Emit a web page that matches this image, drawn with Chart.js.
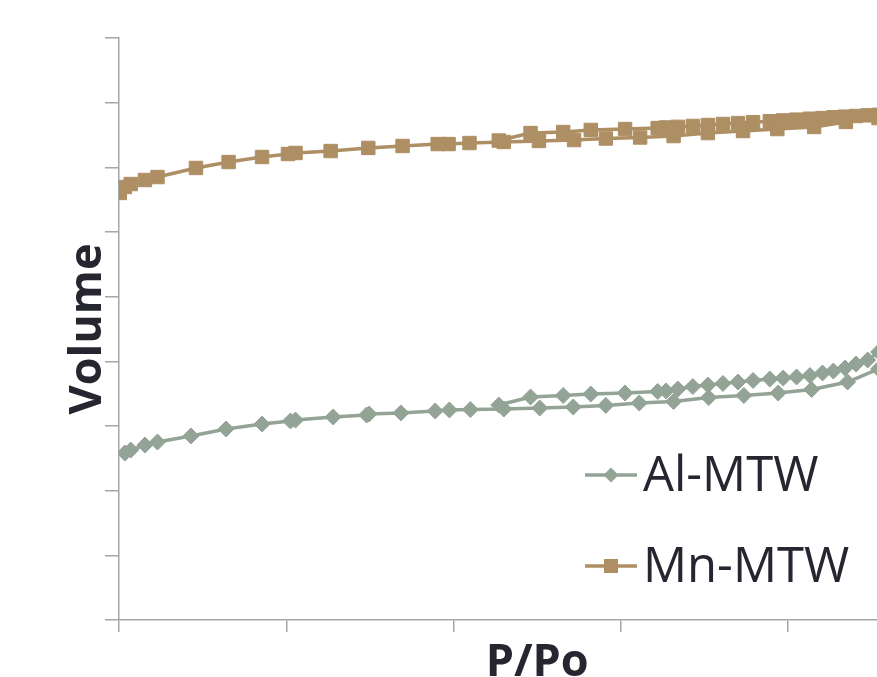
<!DOCTYPE html>
<html>
<head>
<meta charset="utf-8">
<script src="https://cdn.jsdelivr.net/npm/chart.js@4.4.1/dist/chart.umd.min.js"></script>
<style>
    html, body { margin: 0; padding: 0; background: #fff; overflow: hidden; }
    #chart { display: block; }
</style>
</head>
<body>
<canvas id="chart" width="966" height="677"></canvas>
<script>
/* ============================================================
   ISOTERMAS — Al-MTW / Mn-MTW
============================================================ */

// Al-MTW adsorción
const AL_ADS_X = [0.007, 0.014, 0.031, 0.046, 0.086, 0.128, 0.171, 0.205, 0.211, 0.256, 0.296, 0.299, 0.337, 0.378, 0.395, 0.420, 0.460, 0.503, 0.543, 0.582, 0.622, 0.663, 0.705, 0.747, 0.788, 0.828, 0.871, 0.908];
const AL_ADS_Y = [129.1, 131.4, 135.3, 137.6, 142.3, 147.7, 151.5, 153.9, 154.6, 157.0, 158.5, 159.3, 160.1, 161.6, 162.4, 162.7, 163.1, 163.9, 164.7, 165.9, 167.8, 168.9, 172.0, 173.6, 175.5, 178.2, 184.0, 194.1];

// Al-MTW desorción
const AL_DES_X = [0.908, 0.895, 0.881, 0.868, 0.854, 0.841, 0.826, 0.810, 0.794, 0.778, 0.758, 0.740, 0.722, 0.704, 0.686, 0.668, 0.654, 0.644, 0.605, 0.564, 0.531, 0.492, 0.454];
const AL_DES_Y = [207.2, 201.0, 197.9, 194.8, 192.5, 191.0, 189.0, 187.9, 187.1, 186.3, 185.2, 184.0, 182.9, 181.7, 180.5, 178.6, 177.1, 176.7, 175.5, 174.7, 173.6, 172.4, 166.2];

// Mn-MTW adsorción
const MN_ADS_X = [0.001, 0.007, 0.014, 0.031, 0.046, 0.092, 0.131, 0.171, 0.202, 0.211, 0.253, 0.298, 0.339, 0.381, 0.394, 0.419, 0.460, 0.502, 0.544, 0.582, 0.623, 0.663, 0.704, 0.746, 0.787, 0.831, 0.869, 0.908];
const MN_ADS_Y = [330.2, 334.8, 337.1, 340.2, 342.5, 349.5, 354.1, 358.0, 360.3, 361.1, 362.6, 365.0, 366.5, 368.0, 368.0, 368.8, 369.6, 370.4, 371.1, 372.3, 373.1, 374.2, 376.5, 378.1, 379.6, 381.2, 385.1, 388.1];

// Mn-MTW desorción
const MN_DES_X = [0.908, 0.895, 0.881, 0.868, 0.854, 0.841, 0.826, 0.810, 0.794, 0.778, 0.758, 0.740, 0.722, 0.704, 0.686, 0.668, 0.654, 0.644, 0.605, 0.564, 0.531, 0.492, 0.454];
const MN_DES_Y = [390.6, 390.2, 389.7, 389.2, 388.7, 388.1, 387.6, 386.9, 386.3, 385.7, 384.9, 384.2, 383.5, 382.7, 382.0, 381.3, 380.8, 380.4, 379.6, 378.9, 377.3, 376.5, 370.7];

const SERIES = ["Al-MTW", "Mn-MTW"];
const X_TITLE = "P/Po";
const Y_TITLE = "Volume";

const COLOR_AL = "#93A396";
const COLOR_MN = "#AE8F64";
const COLOR_AXIS = "#A6A6A6";
const COLOR_TEXT = "#262631";

function toPts(xs, ys) {
    return xs.map((x, i) => ({ x: x, y: ys[i] }));
}

function serie(label, xs, ys, color, style, radius) {
    return {
        label,
        data: toPts(xs, ys),
        showLine: true,
        borderColor: color,
        backgroundColor: color,
        borderWidth: 3.5,
        pointStyle: style,
        pointRadius: radius,
        pointBorderWidth: 1,
        pointBorderColor: color,
        pointBackgroundColor: color,
        tension: 0
    };
}

/* Leyenda dentro del área: línea + marcador + texto */
const leyendaPlugin = {
    id: "leyendaIso",
    afterDraw(chart) {
        const ctx = chart.ctx;
        const items = [
            { text: SERIES[0], color: COLOR_AL, style: "diamond", y: 475 },
            { text: SERIES[1], color: COLOR_MN, style: "square", y: 566 }
        ];
        ctx.save();
        for (const it of items) {
            ctx.strokeStyle = it.color;
            ctx.fillStyle = it.color;
            ctx.lineWidth = 3.5;
            ctx.beginPath();
            ctx.moveTo(585, it.y);
            ctx.lineTo(637, it.y);
            ctx.stroke();
            ctx.beginPath();
            if (it.style === "diamond") {
                ctx.moveTo(611, it.y - 7.5);
                ctx.lineTo(618.5, it.y);
                ctx.lineTo(611, it.y + 7.5);
                ctx.lineTo(603.5, it.y);
            } else {
                ctx.rect(604, it.y - 7, 14, 14);
            }
            ctx.closePath();
            ctx.fill();

            ctx.fillStyle = COLOR_TEXT;
            ctx.font = "49px 'Open Sans'";
            ctx.textBaseline = "middle";
            ctx.textAlign = "left";
            ctx.fillText(it.text, 643, it.y + 2);
        }
        ctx.restore();
    }
};

new Chart(document.getElementById("chart"), {
    type: "scatter",
    data: {
        datasets: [
            serie(SERIES[0], AL_ADS_X, AL_ADS_Y, COLOR_AL, "rectRot", 8),
            serie(SERIES[0], AL_DES_X, AL_DES_Y, COLOR_AL, "rectRot", 8),
            serie(SERIES[1], MN_ADS_X, MN_ADS_Y, COLOR_MN, "rect", 9.5),
            serie(SERIES[1], MN_DES_X, MN_DES_Y, COLOR_MN, "rect", 9.5)
        ]
    },
    options: {
        responsive: false,
        animation: false,
        layout: { padding: { top: 38, right: 5, bottom: 0, left: 0 } },
        plugins: {
            legend: { display: false },
            tooltip: { enabled: false }
        },
        scales: {
            x: {
                type: "linear",
                min: 0,
                max: 1,
                ticks: { stepSize: 0.2, display: false },
                grid: { drawOnChartArea: false, drawTicks: true, tickLength: 12, color: COLOR_AXIS, lineWidth: 1.5 },
                border: { display: true, color: COLOR_AXIS, width: 1.5 },
                title: {
                    display: true,
                    text: X_TITLE,
                    color: COLOR_TEXT,
                    font: { family: "'Open Sans'", size: 45, weight: "bold", lineHeight: 0.6 },
                    padding: { top: 0, bottom: 0 }
                },
                afterFit(scale) { scale.height = 57; }
            },
            y: {
                type: "linear",
                min: 0,
                max: 450,
                ticks: { stepSize: 50, display: false },
                grid: { drawOnChartArea: false, drawTicks: true, tickLength: 14, color: COLOR_AXIS, lineWidth: 1.5 },
                border: { display: true, color: COLOR_AXIS, width: 1.5 },
                title: {
                    display: true,
                    text: Y_TITLE,
                    color: COLOR_TEXT,
                    font: { family: "'Open Sans'", size: 45, weight: "bold", lineHeight: 1 },
                    padding: { top: 66, bottom: 0 }
                },
                afterFit(scale) { scale.width = 119; }
            }
        }
    },
    plugins: [leyendaPlugin]
});
</script>
</body>
</html>
